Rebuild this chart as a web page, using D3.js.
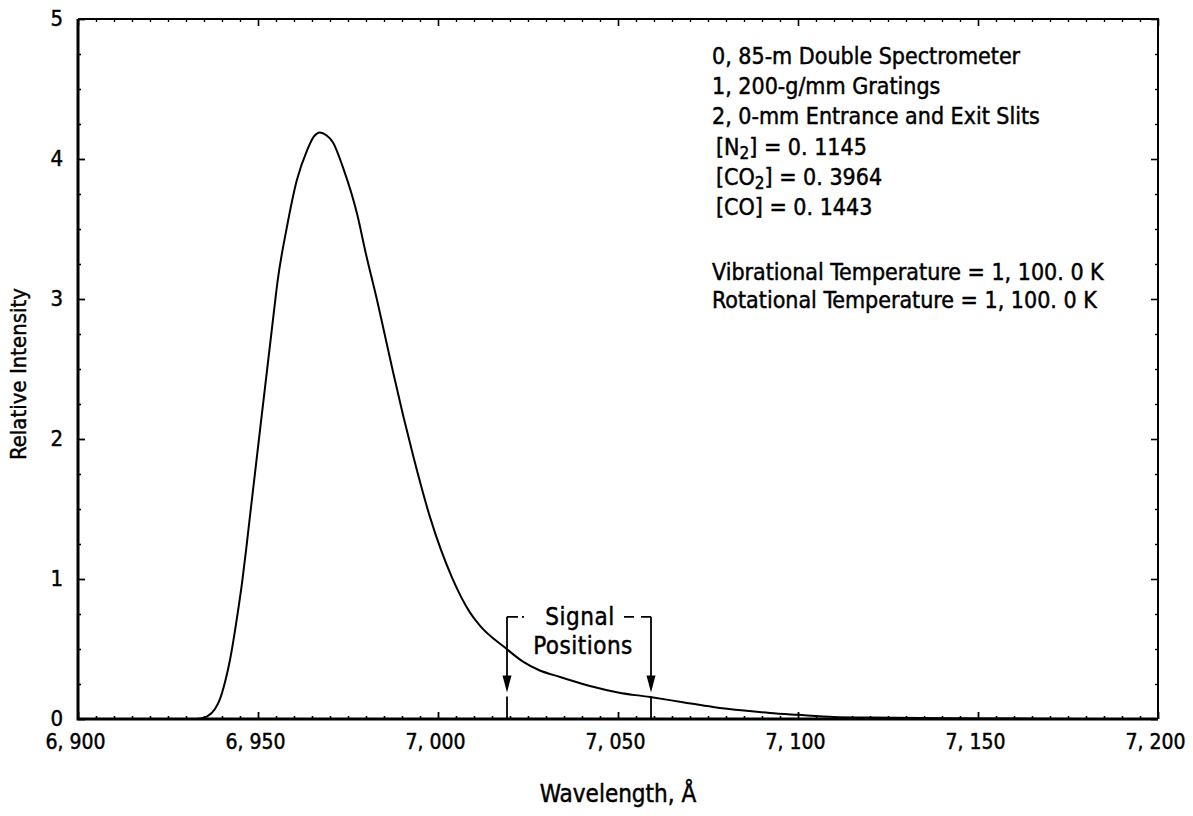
<!DOCTYPE html>
<html>
<head>
<meta charset="utf-8">
<script src="https://cdn.jsdelivr.net/npm/d3@7"></script>
<style>
  body { margin: 0; background: #fff; }
  text { font-family: "DejaVu Sans Condensed", "DejaVu Sans", sans-serif; fill: #000; stroke: #000; stroke-width: 0.45px; }
</style>
</head>
<body>
<svg id="chart" width="1193" height="816"></svg>
<script>
// Computed band profile: wavelength (Angstrom) and relative intensity
const wavelength = [6900, 6930, 6933, 6934, 6936, 6938, 6939.4, 6941, 6942.2, 6944.2, 6945.6, 6946.7,
  6948, 6950, 6952, 6954.7, 6955.3, 6958, 6960.8, 6963.6, 6965.5, 6967.2, 6969, 6970.8, 6973.6,
  6977.5, 6980, 6983, 6985, 6987.5, 6990.3, 6993.1, 6997.8, 7003.9, 7008.9, 7011.7, 7018.6, 7023.6,
  7028, 7033.9, 7042.2, 7050, 7058.9, 7068, 7076.4, 7085, 7092.2, 7100, 7110, 7120, 7140, 7160, 7180, 7200];
const intensity = [0, 0, 0, 0.003, 0.02, 0.07, 0.14, 0.28, 0.42, 0.73, 0.98, 1.21,
  1.5, 1.94, 2.38, 2.97, 3.1, 3.51, 3.85, 4.06, 4.16, 4.19, 4.17, 4.12, 3.94,
  3.61, 3.32, 3.0, 2.77, 2.48, 2.17, 1.88, 1.44, 1.01, 0.76, 0.665, 0.51, 0.41,
  0.35, 0.30, 0.236, 0.19, 0.157, 0.12, 0.086, 0.06, 0.043, 0.03, 0.015, 0.01, 0.006, 0.003, 0, 0];

const xTickValues = [6900, 6950, 7000, 7050, 7100, 7150, 7200];
const yTickValues = [0, 1, 2, 3, 4, 5];
const signalPositions = [7020, 7060];
const signalLabel = ["Signal", "Positions"];

const setupLines = ["0, 85-m Double Spectrometer", "1, 200-g/mm Gratings", "2, 0-mm Entrance and Exit Slits"];
const species = ["N", "CO", "CO"];
const speciesSub = ["2", "2", ""];
const concentrations = ["0. 1145", "0. 3964", "0. 1443"];
const temperatureLines = ["Vibrational Temperature = 1, 100. 0 K", "Rotational Temperature = 1, 100. 0 K"];

const xLabel = "Wavelength, Å";
const yLabel = "Relative Intensity";

const svg = d3.select("#chart");
const plotL = 78, plotR = 1158, plotT = 19, plotB = 719;

const x = d3.scaleLinear().domain([6900, 7200]).range([plotL, plotR]);
const y = d3.scaleLinear().domain([0, 5]).range([plotB, plotT]);

const fmtX = d => d3.format(",")(d).replace(",", ", ");
const minorX = d3.range(6900, 7201, 5).filter(v => v % 50 !== 0);
const minorY = d3.range(0, 5.001, 0.25).filter(v => Math.abs(v - Math.round(v)) > 1e-6);

function styleAxis(g, width) {
  g.select(".domain").remove();
  g.selectAll(".tick line").attr("stroke", "#000").attr("stroke-width", width);
}

// minor ticks on all four sides, pointing inward
svg.append("g").attr("transform", `translate(0,${plotB})`)
  .call(d3.axisBottom(x).tickValues(minorX).tickSize(-3).tickFormat(""))
  .call(g => styleAxis(g, 1.6));
svg.append("g").attr("transform", `translate(0,${plotT})`)
  .call(d3.axisTop(x).tickValues(minorX).tickSize(-3).tickFormat(""))
  .call(g => styleAxis(g, 1.4));
svg.append("g").attr("transform", `translate(${plotL},0)`)
  .call(d3.axisLeft(y).tickValues(minorY).tickSize(-3).tickFormat(""))
  .call(g => styleAxis(g, 1.6));
svg.append("g").attr("transform", `translate(${plotR},0)`)
  .call(d3.axisRight(y).tickValues(minorY).tickSize(-3).tickFormat(""))
  .call(g => styleAxis(g, 1.4));

// major ticks with labels
const xAxis = svg.append("g").attr("transform", `translate(0,${plotB})`)
  .call(d3.axisBottom(x).tickValues(xTickValues).tickSize(-7).tickPadding(15).tickFormat(fmtX))
  .call(g => styleAxis(g, 1.8));
xAxis.selectAll("text").style("font-size", "21px").attr("font-family", null).attr("dx", -3);

svg.append("g").attr("transform", `translate(0,${plotT})`)
  .call(d3.axisTop(x).tickValues(xTickValues).tickSize(-7).tickFormat(""))
  .call(g => styleAxis(g, 1.6));

const yAxis = svg.append("g").attr("transform", `translate(${plotL},0)`)
  .call(d3.axisLeft(y).tickValues(yTickValues).tickSize(-7).tickPadding(15).tickFormat(d3.format("d")))
  .call(g => styleAxis(g, 1.8));
yAxis.selectAll("text").style("font-size", "22px").attr("font-family", null).attr("dy", "0.28em");

svg.append("g").attr("transform", `translate(${plotR},0)`)
  .call(d3.axisRight(y).tickValues(yTickValues).tickSize(-7).tickFormat(""))
  .call(g => styleAxis(g, 1.6));

// frame
svg.append("path")
  .attr("d", `M${plotL},${plotT}H${plotR}V${plotB}`)
  .attr("fill", "none").attr("stroke", "#000").attr("stroke-width", 2);
svg.append("path")
  .attr("d", `M${plotL},${plotT}V${plotB}H${plotR}`)
  .attr("fill", "none").attr("stroke", "#000").attr("stroke-width", 3);

// spectrum
const line = d3.line()
  .x((d, i) => x(wavelength[i]))
  .y(d => y(d))
  .curve(d3.curveMonotoneX);
svg.append("path")
  .datum(intensity)
  .attr("d", line)
  .attr("fill", "none")
  .attr("stroke", "#000")
  .attr("stroke-width", 2);

// signal position markers
const bracketY = y(0.73), tipY = y(0.19);
const markers = svg.append("g");
signalPositions.forEach(p => {
  const px = x(p) - 3;
  markers.append("line").attr("x1", px).attr("x2", px).attr("y1", bracketY).attr("y2", tipY - 8)
    .attr("stroke", "#000").attr("stroke-width", 1.8);
  markers.append("line").attr("x1", px).attr("x2", px).attr("y1", tipY + 4).attr("y2", plotB)
    .attr("stroke", "#000").attr("stroke-width", 1.8);
  markers.append("path")
    .attr("d", `M${px - 4.5},${tipY - 17}L${px + 4.5},${tipY - 17}L${px},${tipY}Z`)
    .attr("fill", "#000");
});
const sx0 = x(signalPositions[0]) - 3, sx1 = x(signalPositions[1]) - 3;
markers.append("path")
  .attr("d", `M${sx0},${bracketY}H${sx0 + 11}M${sx0 + 15},${bracketY}H${sx0 + 17}`)
  .attr("stroke", "#000").attr("stroke-width", 1.8);
markers.append("path")
  .attr("d", `M${sx1 - 27},${bracketY}H${sx1 - 17}M${sx1 - 10},${bracketY}H${sx1}`)
  .attr("stroke", "#000").attr("stroke-width", 1.8);
const midX = (sx0 + sx1) / 2;
markers.append("text").attr("x", midX + 1).attr("y", bracketY + 8).attr("text-anchor", "middle")
  .style("font-size", "24px").style("letter-spacing", "0.5px").text(signalLabel[0]);
markers.append("text").attr("x", midX + 4).attr("y", bracketY + 37).attr("text-anchor", "middle")
  .style("font-size", "24px").style("letter-spacing", "0.5px").text(signalLabel[1]);

// annotation block
const note = svg.append("g").style("font-size", "23px");
const noteX = 712;
setupLines.forEach((t, i) => {
  note.append("text").attr("x", noteX).attr("y", 64 + i * 30).text(t);
});
species.forEach((s, i) => {
  const t = note.append("text").attr("x", noteX + 4).attr("y", 155 + i * 30);
  t.append("tspan").text("[" + s);
  if (speciesSub[i]) t.append("tspan").attr("dy", 4).style("font-size", "17px").text(speciesSub[i]);
  t.append("tspan").attr("dy", speciesSub[i] ? -4 : 0).text("]  =  " + concentrations[i]);
});
temperatureLines.forEach((t, i) => {
  note.append("text").attr("x", noteX).attr("y", 280 + i * 28).text(t);
});

// axis titles
svg.append("text").attr("x", (plotL + plotR) / 2).attr("y", 802)
  .attr("text-anchor", "middle").style("font-size", "24px").text(xLabel);

svg.append("text")
  .attr("transform", `translate(26,${(plotT + plotB) / 2 + 5}) rotate(-90)`)
  .attr("text-anchor", "middle").style("font-size", "22px").text(yLabel);
</script>
</body>
</html>
